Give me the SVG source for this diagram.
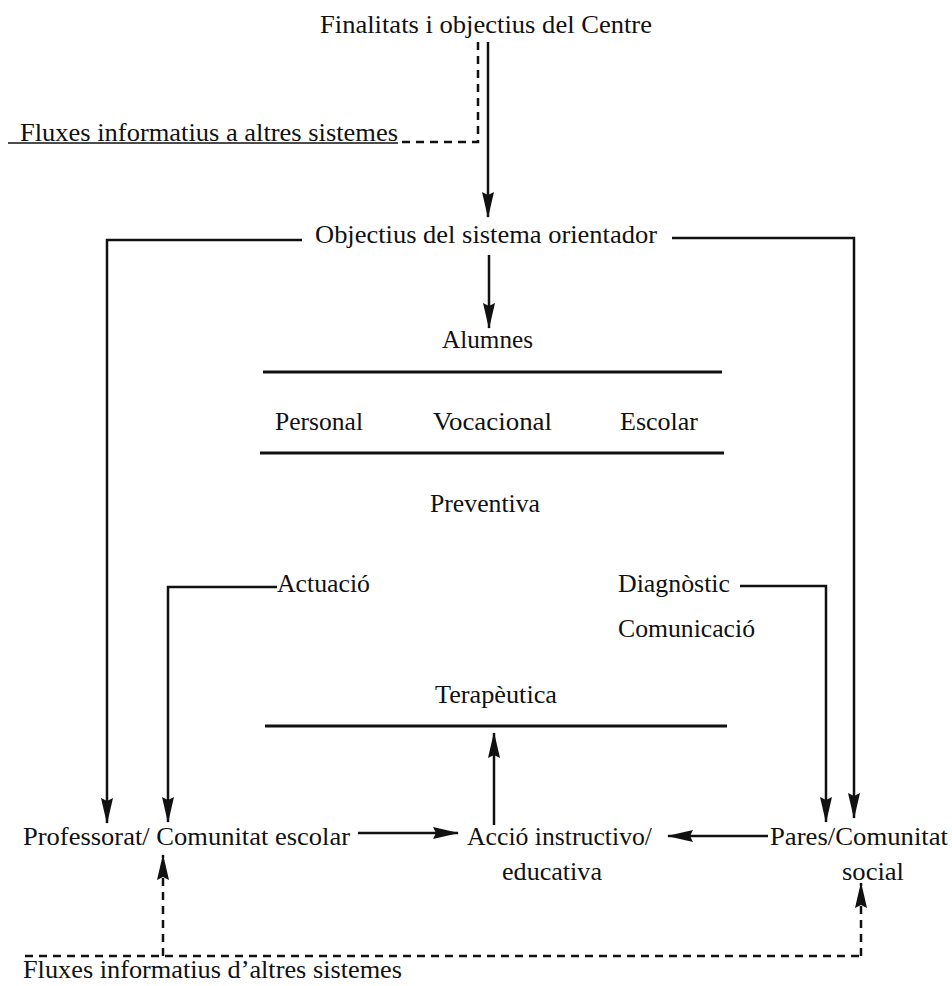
<svg xmlns="http://www.w3.org/2000/svg" width="952" height="986" viewBox="0 0 952 986">
<style>
  text { font-family: "Liberation Serif", "Times New Roman", serif; font-size: 26px; fill: #111; }
  .ln { stroke: #111; stroke-width: 2.5; fill: none; }
  .sep { stroke: #111; stroke-width: 3; fill: none; }
  .dash { stroke: #111; stroke-width: 2.5; fill: none; stroke-dasharray: 8 6; }
  .arr { marker-end: url(#ah); }
</style>
<defs>
  <marker id="ah" markerUnits="userSpaceOnUse" markerWidth="26" markerHeight="14" refX="25" refY="7" orient="auto">
    <path d="M0,1 L26,7 L0,13 L3,7 z" fill="#111"/>
  </marker>
</defs>
<rect width="952" height="986" fill="#fff"/>

<g id="connectors">
  <line class="ln arr" x1="488" y1="42" x2="488" y2="217"/>
  <polyline class="dash" points="478,42 478,142 400,142"/>
  <line x1="8" y1="143" x2="398" y2="143" stroke="#111" stroke-width="1.5"/>
  <line class="ln arr" x1="489" y1="255" x2="489" y2="328"/>
  <polyline class="ln arr" points="302,240 107,240 107,823"/>
  <polyline class="ln arr" points="672,238 854,238 854,818"/>
  <polyline class="ln arr" points="277,587 168,587 168,822"/>
  <polyline class="ln arr" points="740,586 826,586 826,822"/>
  <line class="ln arr" x1="494" y1="825" x2="494" y2="733"/>
  <line class="ln arr" x1="358" y1="833" x2="458" y2="833"/>
  <line class="ln arr" x1="768" y1="836" x2="668" y2="836"/>
  <line class="dash" x1="25" y1="956" x2="861" y2="956"/>
  <line class="dash arr" x1="163" y1="956" x2="163" y2="855"/>
  <line class="dash arr" x1="861" y1="956" x2="861" y2="883"/>
</g>

<g id="separators">
  <line class="sep" x1="263" y1="372" x2="722" y2="372"/>
  <line class="sep" x1="260" y1="453" x2="724" y2="453"/>
  <line class="sep" x1="265" y1="726" x2="727" y2="726"/>
</g>

<g id="n-finalitats"><text x="320" y="33" textLength="332" lengthAdjust="spacingAndGlyphs">Finalitats i objectius del Centre</text></g>
<g id="n-fluxes-a"><text x="20" y="141" textLength="378" lengthAdjust="spacingAndGlyphs">Fluxes informatius a altres sistemes</text></g>
<g id="n-objectius"><text x="315" y="243" textLength="342" lengthAdjust="spacingAndGlyphs">Objectius del sistema orientador</text></g>
<g id="n-alumnes"><text x="442" y="348" textLength="91" lengthAdjust="spacingAndGlyphs">Alumnes</text></g>
<g id="n-personal"><text x="275" y="430" textLength="88" lengthAdjust="spacingAndGlyphs">Personal</text></g>
<g id="n-vocacional"><text x="433" y="430" textLength="119" lengthAdjust="spacingAndGlyphs">Vocacional</text></g>
<g id="n-escolar"><text x="620" y="430" textLength="78" lengthAdjust="spacingAndGlyphs">Escolar</text></g>
<g id="n-preventiva"><text x="430" y="512" textLength="110" lengthAdjust="spacingAndGlyphs">Preventiva</text></g>
<g id="n-actuacio"><text x="277" y="592" textLength="93" lengthAdjust="spacingAndGlyphs">Actuació</text></g>
<g id="n-diagnostic"><text x="618" y="592" textLength="112" lengthAdjust="spacingAndGlyphs">Diagnòstic</text></g>
<g id="n-comunicacio"><text x="618" y="637" textLength="137" lengthAdjust="spacingAndGlyphs">Comunicació</text></g>
<g id="n-terapeutica"><text x="435" y="703" textLength="122" lengthAdjust="spacingAndGlyphs">Terapèutica</text></g>
<g id="n-professorat"><text x="23" y="845" textLength="327" lengthAdjust="spacingAndGlyphs">Professorat/ Comunitat escolar</text></g>
<g id="n-accio">
  <text x="467" y="845" textLength="185" lengthAdjust="spacingAndGlyphs">Acció instructivo/</text>
  <text x="502" y="880" textLength="100" lengthAdjust="spacingAndGlyphs">educativa</text>
</g>
<g id="n-pares">
  <text x="770" y="845" textLength="178" lengthAdjust="spacingAndGlyphs">Pares/Comunitat</text>
  <text x="842" y="880" textLength="62" lengthAdjust="spacingAndGlyphs">social</text>
</g>
<g id="n-fluxes-d"><text x="23" y="978" textLength="379" lengthAdjust="spacingAndGlyphs">Fluxes informatius d’altres sistemes</text></g>
</svg>
